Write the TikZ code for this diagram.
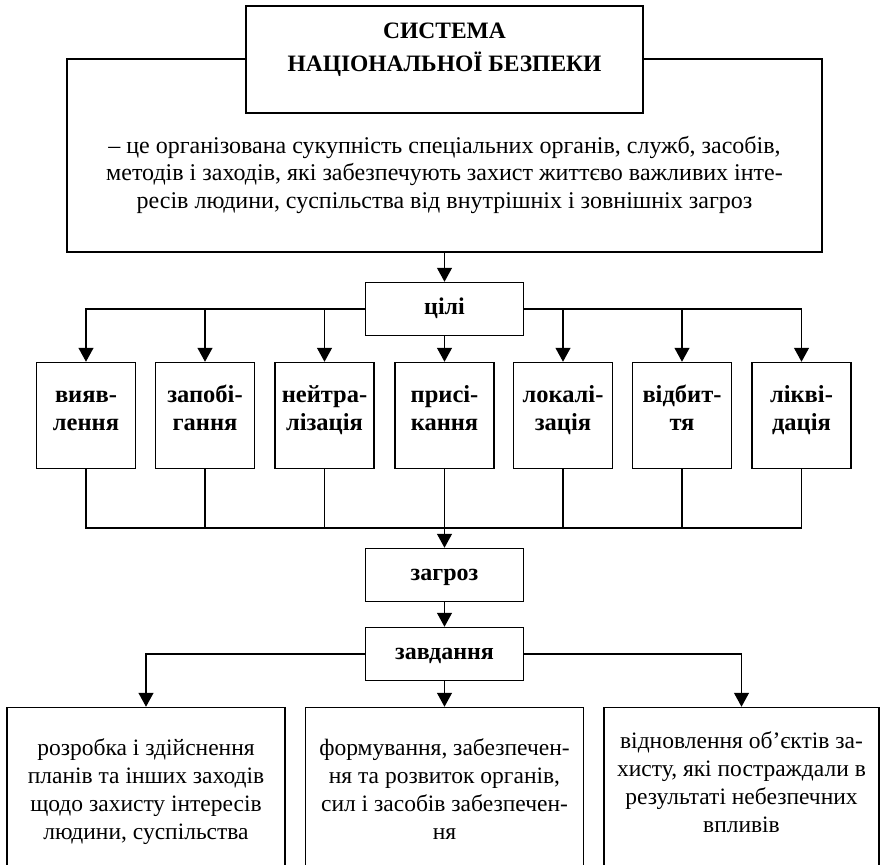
\documentclass[tikz,border=0pt]{standalone}
\usepackage{fontspec}
\setmainfont{Liberation Serif}
\usetikzlibrary{arrows.meta}
\newcommand\ls{\strut}
\begin{document}
\begin{tikzpicture}[x=1pt,y=-1pt,
  box/.style={draw, line width=1.5pt, fill=white, inner sep=0pt},
  conn/.style={line width=1.3pt},
  arr/.style={conn, -{Triangle[length=14pt,width=15pt]}},
  txt/.style={inner sep=0pt, align=center},
  deffont/.style={txt, font=\fontsize{24}{27.5}\selectfont},
  lowfont/.style={txt, font=\fontsize{23.5}{28}\selectfont},
  smallfont/.style={txt, font=\fontsize{24.5}{28}\selectfont\bfseries},
  small/.style={box, minimum width=99pt, minimum height=106pt},
  mid/.style={box, minimum width=158pt, minimum height=53pt, font=\fontsize{24}{28}\selectfont\bfseries},
  low/.style={box, minimum height=165pt}
]
\clip (0,0) rectangle (880,864);
\fill[white] (0,0) rectangle (880,864);

% definition box and title box
\node[box, minimum width=755pt, minimum height=193pt] (def) at (444.5,155.5) {};
\node[deffont] (deftxt) at (444.5,175) {\ls– це організована сукупність спеціальних органів, служб, засобів,\\\ls методів і заходів, які забезпечують захист життєво важливих інте-\\\ls ресів людини, суспільства від внутрішніх і зовнішніх загроз};
\node[box, minimum width=397pt, minimum height=107pt] (sys) at (444.5,59.5) {};
\node[txt, font=\fontsize{23.5}{33}\selectfont\bfseries] (systxt) at (444.5,48.9) {\ls СИСТЕМА\\\ls НАЦІОНАЛЬНОЇ БЕЗПЕКИ};

% goals
\node[mid] (cili) at (444.5,309) {\ls цілі};
\node[small] (b1) at (86,415.5) {};
\node[small] (b2) at (205,415.5) {};
\node[small] (b3) at (324.5,415.5) {};
\node[small] (b4) at (444.5,415.5) {};
\node[small] (b5) at (563,415.5) {};
\node[small] (b6) at (682,415.5) {};
\node[small] (b7) at (801.5,415.5) {};
\node[smallfont] (b1t) at (86,410.4) {\ls вияв-\\\ls лення};
\node[smallfont] (b2t) at (205,410.4) {\ls запобі-\\\ls гання};
\node[smallfont] (b3t) at (324.5,410.4) {\ls нейтра-\\\ls лізація};
\node[smallfont] (b4t) at (444.5,410.4) {\ls присі-\\\ls кання};
\node[smallfont] (b5t) at (563,410.4) {\ls локалі-\\\ls зація};
\node[smallfont] (b6t) at (682,410.4) {\ls відбит-\\\ls тя};
\node[smallfont] (b7t) at (801.5,410.4) {\ls ліквi-\\\ls дація};

\node[mid] (zagroz) at (444.5,575) {\ls загроз};
\node[mid] (zavd) at (444.5,654) {\ls завдання};

\node[low, minimum width=278pt] (t1) at (146,790) {};
\node[low, minimum width=278pt] (t2) at (444.5,790) {};
\node[low, minimum width=275pt] (t3) at (741.5,790) {};
\node[lowfont] (t1t) at (146,791.4) {\ls розробка і здійснення\\\ls планів та інших заходів\\\ls щодо захисту інтересів\\\ls людини, суспільства};
\node[lowfont] (t2t) at (444.5,791.4) {\ls формування, забезпечен-\\\ls ня та розвиток органів,\\\ls сил і засобів забезпечен-\\\ls ня};
\node[lowfont] (t3t) at (741.5,784.4) {\ls відновлення об’єктів за-\\\ls хисту, які постраждали в\\\ls результаті небезпечних\\\ls впливів};

\coordinate (j) at (444.5,528);

% connectors
\draw[arr] (def.south) -- (cili.north);
\draw[arr] (cili.west) -| (b1.north);
\draw[arr] (cili.west) -| (b2.north);
\draw[arr] (cili.west) -| (b3.north);
\draw[arr] (cili.south) -- (b4.north);
\draw[arr] (cili.east) -| (b5.north);
\draw[arr] (cili.east) -| (b6.north);
\draw[arr] (cili.east) -| (b7.north);

\draw[conn, line width=1.8pt] (b1.south) |- (j) -| (b7.south);
\draw[conn] (b2.south) -- (b2.south |- j);
\draw[conn] (b3.south) -- (b3.south |- j);
\draw[conn] (b5.south) -- (b5.south |- j);
\draw[conn] (b6.south) -- (b6.south |- j);
\draw[arr] (b4.south) -- (zagroz.north);

\draw[arr] (zagroz.south) -- (zavd.north);
\draw[arr] (zavd.west) -| (t1.north);
\draw[arr] (zavd.south) -- (t2.north);
\draw[arr] (zavd.east) -| (t3.north);
\end{tikzpicture}
\end{document}
